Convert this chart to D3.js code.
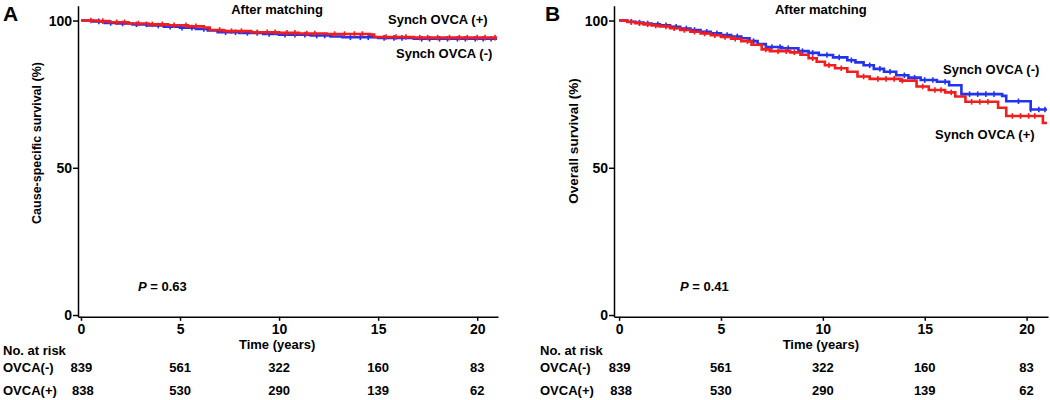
<!DOCTYPE html>
<html><head><meta charset="utf-8">
<script src="https://cdn.jsdelivr.net/npm/d3@7/dist/d3.min.js"></script>
<style>
body{margin:0;background:#fff;}
svg{display:block;font-family:"Liberation Sans",Arial,sans-serif;font-weight:bold;}
</style></head><body>
<svg id="c" width="1050" height="400"></svg>
<script>
// ---------- data ----------
const xTicks = [0, 5, 10, 15, 20];
const yTicks = [0, 50, 100];
const riskTimes = [0, 5, 10, 15, 20];
const riskNeg = [839, 561, 322, 160, 83];
const riskPos = [838, 530, 290, 139, 62];
const endTime = 21;

// Panel A: cause-specific survival [time, %]
const csNeg = [[0,100],[0.6,99.7],[1.2,99.2],[1.8,99.0],[2.6,98.7],[3.4,98.3],[4.2,97.9],[5.0,97.6],[5.8,97.1],[6.4,96.6],[6.9,96.0],[8.0,95.8],[9.2,95.4],[10.0,95.2],[11.6,94.9],[12.6,94.6],[13.2,94.3],[15.0,94.1],[16.8,93.8]];
const csPos = [[0,100],[0.8,99.8],[1.4,99.4],[2.4,99.0],[3.4,98.7],[4.4,98.4],[5.4,98.0],[6.2,97.6],[6.5,96.8],[7.2,96.4],[8.6,96.0],[10.0,95.8],[11.0,95.6],[12.4,95.4],[14.6,95.2],[14.8,94.4],[16.8,94.2]];
const csNegCens = [0.9,1.5,2.1,2.8,3.3,3.9,4.5,5.1,5.6,6.2,7.3,7.8,8.4,8.9,9.5,10.3,10.8,11.3,11.9,12.3,13.6,14.1,14.5,15.3,15.8,16.2,17.2,17.6,18.1,18.5,19.0,19.4,19.9,20.3,20.7];
const csPosCens = [0.5,1.1,1.8,2.2,2.9,3.6,4.1,4.7,5.3,5.8,7.0,7.6,8.1,8.9,9.4,9.8,10.4,10.8,11.4,11.8,12.8,13.3,13.8,14.2,15.4,15.9,16.4,17.1,17.5,18.0,18.6,19.1,19.5,20.0,20.4,20.9];

// Panel B: overall survival [time, %]
const osNeg = [[0,100],[0.4,99.6],[0.8,99.3],[1.2,99.0],[1.6,98.7],[2.0,98.4],[2.5,97.9],[3.0,97.3],[3.5,96.8],[4.0,96.2],[4.5,95.7],[5.0,95.1],[5.5,94.6],[6.0,94.0],[6.4,93.0],[6.8,92.0],[7.2,91.0],[8.0,90.6],[8.8,89.6],[9.3,89.0],[9.8,88.3],[10.5,87.5],[11.2,86.5],[11.6,85.8],[12.0,84.8],[12.5,83.6],[13.0,82.6],[13.6,81.4],[14.2,80.6],[14.8,79.8],[15.6,79.2],[16.2,78.0],[16.8,75.0],[18.8,74.4],[19.0,72.6],[20.2,69.8]];
const osPos = [[0,100],[0.4,99.5],[0.8,99.1],[1.2,98.7],[1.6,98.3],[2.0,98.0],[2.5,97.4],[3.0,96.8],[3.5,96.2],[4.0,95.6],[4.5,95.0],[5.0,94.4],[5.5,93.8],[6.0,93.0],[6.5,91.8],[7.0,90.2],[7.4,89.6],[8.4,89.2],[8.9,88.4],[9.3,87.2],[9.7,86.0],[10.1,84.8],[10.6,83.8],[11.2,82.6],[11.7,81.0],[12.3,80.2],[13.8,79.6],[14.6,77.6],[15.2,76.4],[16.0,75.6],[16.5,74.2],[17.0,72.4],[18.6,70.4],[19.0,67.6],[20.8,65.2]];
const osNegCens = [0.6,1.0,1.4,1.9,2.3,2.8,3.3,3.7,4.3,4.8,5.3,5.8,6.6,7.5,7.9,8.3,9.0,9.5,10.2,10.8,11.4,12.3,12.8,13.3,14.0,14.5,15.0,15.4,16.0,17.2,17.6,18.0,18.4,19.6,20.2,20.6,20.9];
const osPosCens = [0.6,1.0,1.4,1.8,2.3,2.7,3.2,3.7,4.2,4.7,5.2,5.7,6.3,7.2,7.8,8.2,8.6,9.5,10.3,10.9,12.0,12.7,13.1,13.5,13.9,14.9,15.5,15.8,16.3,17.3,17.7,18.1,19.3,19.7,20.1,20.4];

// ---------- drawing ----------
const svg = d3.select("#c");
const BLUE = "#2233f0", RED = "#f21d1d";

function survAt(steps, t) {
  let s = steps[0][1];
  for (const d of steps) { if (d[0] <= t) s = d[1]; }
  return s;
}

function panel(o) {
  const x = d3.scaleLinear().domain([o.xMin, 21.05]).range([o.x0, o.x1]);
  const y = d3.scaleLinear().domain([-0.6, 105]).range([316.8, 5.8]);
  const g = svg.append("g");

  const yAx = g.append("g").attr("transform", `translate(${o.x0},0)`)
    .call(d3.axisLeft(y).tickValues(yTicks).tickSize(5).tickPadding(1).tickSizeOuter(0));
  const xAx = g.append("g").attr("transform", `translate(0,${y(-0.6)})`)
    .call(d3.axisBottom(x).tickValues(xTicks).tickSize(4).tickPadding(3).tickSizeOuter(0));
  [yAx, xAx].forEach(a => {
    a.selectAll("path,line").attr("stroke", "#000").attr("stroke-width", 1.5);
    a.selectAll("text").attr("fill", "#000").style("font-size", "14px").style("font-weight", "bold")
      .style("font-family", '"Liberation Sans",Arial,sans-serif');
  });

  const line = d3.line().curve(d3.curveStepAfter).x(d => x(d[0])).y(d => y(d[1]));
  o.curves.forEach(c => {
    const pts = c.steps.concat([[c.end, c.steps[c.steps.length - 1][1]]]);
    g.append("path").datum(pts).attr("d", line).attr("fill", "none")
      .attr("stroke", c.color).attr("stroke-width", 2.6);
    g.selectAll(null).data(c.cens).enter().append("line")
      .attr("x1", t => x(t)).attr("x2", t => x(t))
      .attr("y1", t => y(survAt(c.steps, t)) - 2.8).attr("y2", t => y(survAt(c.steps, t)) + 2.8)
      .attr("stroke", c.color).attr("stroke-width", 1.6);
  });

  const txt = (tx, ty, s, size, anchor) => g.append("text").attr("x", tx).attr("y", ty)
    .attr("text-anchor", anchor || "start").style("font-size", size + "px").text(s);

  txt(o.letterX, 21, o.letter, 21);
  txt(x(9.9), 14, "After matching", 13, "middle");
  o.labels.forEach(l => txt(l[0], l[1], l[2], 13));
  g.append("text").attr("transform", `translate(${o.yLabX},${o.yLabY}) rotate(-90)`)
    .attr("text-anchor", "middle").style("font-size", o.yLabSize + "px").text(o.yLabel);

  const p = g.append("text").attr("x", o.pX).attr("y", 291).style("font-size", "13px");
  p.append("tspan").style("font-style", "italic").text("P");
  p.append("tspan").text(" = " + o.p);

  txt(x(9.9), 349, "Time (years)", 13, "middle");
  txt(o.rowX, 355, "No. at risk", 13);
  txt(o.rowX, 372, "OVCA(-)", 13);
  txt(o.rowX, 395, "OVCA(+)", 13);
  g.selectAll(null).data(riskTimes).enter().append("text")
    .attr("x", (t) => x(t) + (t === 0 ? 0.5 : 0)).attr("y", 372).attr("text-anchor", "middle")
    .style("font-size", "13px").text((t, i) => riskNeg[i]);
  g.selectAll(null).data(riskTimes).enter().append("text")
    .attr("x", (t) => x(t) + (t === 0 ? 2 : 0)).attr("y", 395).attr("text-anchor", "middle")
    .style("font-size", "13px").text((t, i) => riskPos[i]);
}

panel({
  x0: 78, x1: 498, xMin: -0.15, letter: "A", letterX: 3,
  yLabel: "Cause-specific survival (%)", yLabX: 41, yLabY: 143, yLabSize: 12.5,
  p: "0.63", pX: 138, rowX: 3,
  labels: [[388, 24, "Synch OVCA (+)"], [396, 58, "Synch OVCA (-)"]],
  curves: [
    { steps: csNeg, cens: csNegCens, color: BLUE, end: endTime },
    { steps: csPos, cens: csPosCens, color: RED, end: endTime }
  ]
});
panel({
  x0: 614, x1: 1048, xMin: -0.25, letter: "B", letterX: 545,
  yLabel: "Overall survival (%)", yLabX: 578, yLabY: 141, yLabSize: 13.5,
  p: "0.41", pX: 680, rowX: 540,
  labels: [[943, 74, "Synch OVCA (-)"], [935, 139, "Synch OVCA (+)"]],
  curves: [
    { steps: osNeg, cens: osNegCens, color: BLUE, end: endTime },
    { steps: osPos, cens: osPosCens, color: RED, end: endTime }
  ]
});
</script></body></html>
